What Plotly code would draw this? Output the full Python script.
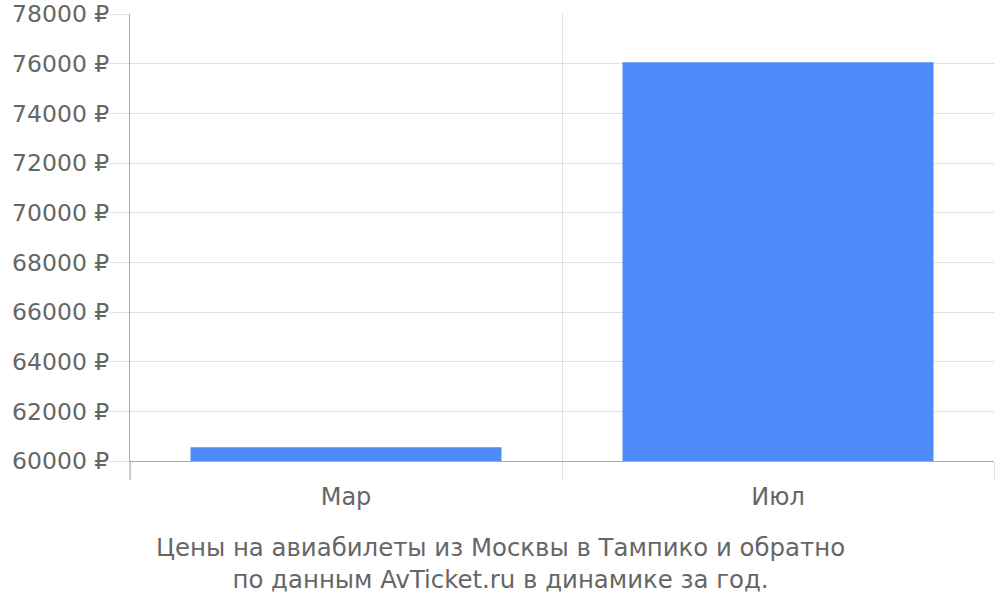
import plotly.graph_objects as go

# Prices for flights Moscow - Tampico (round trip)
months = ["Мар", "Июл"]
prices = [60555, 76060]
y_ticks = list(range(60000, 78001, 2000))
y_tick_labels = [f"{v} ₽" for v in y_ticks]

bar_color = "#4f8bfa"
grid_color = "#e0e0e0"
axis_color = "#aaaaaa"
text_color = "#666666"

fig = go.Figure()

fig.add_trace(go.Bar(x=months, y=prices, marker=dict(color=bar_color, line=dict(width=0)),
                     hoverinfo="x+y"))

fig.update_layout(
    width=1000, height=600,
    margin=dict(l=130, r=6, t=14, b=139, autoexpand=False),
    plot_bgcolor="white", paper_bgcolor="white",
    bargap=0.28,
    showlegend=False,
    font=dict(family="DejaVu Sans", size=24, color=text_color),
)

fig.update_xaxes(
    type="category",
    automargin=False,
    tickson="boundaries",
    ticks="outside", ticklen=19, tickcolor=grid_color, tickwidth=1,
    ticklabelstandoff=14,
    showgrid=True, gridcolor=grid_color, gridwidth=1,
    showline=True, linecolor=axis_color, linewidth=1,
    tickfont=dict(size=24, color=text_color),
)

fig.update_yaxes(
    range=[60000, 78000],
    automargin=False,
    tickvals=y_ticks, ticktext=y_tick_labels,
    ticks="outside", ticklen=20, tickcolor=grid_color, tickwidth=1,
    ticklabelstandoff=-5,
    showgrid=True, gridcolor=grid_color, gridwidth=1,
    showline=True, linecolor=axis_color, linewidth=1,
    zeroline=False,
    tickfont=dict(size=23.5, color=text_color),
)

# y axis line continues down to the end of the category ticks
fig.add_shape(type="line", xref="paper", yref="paper", x0=0, x1=0, y0=-19 / 447, y1=0,
              line=dict(color=axis_color, width=1))

# Chart caption below the plot
fig.add_annotation(
    text="Цены на авиабилеты из Москвы в Тампико и обратно<br>по данным AvTicket.ru в динамике за год.",
    xref="paper", yref="paper", x=0.429, y=-0.157, xanchor="center", yanchor="top",
    showarrow=False, align="center",
    font=dict(family="DejaVu Sans", size=24.4, color=text_color),
)

# drop the default body margin so the figure sits at the page corner
fig.write_html("out.html", config={"displayModeBar": False},
               post_script="document.body.style.margin='0';")
